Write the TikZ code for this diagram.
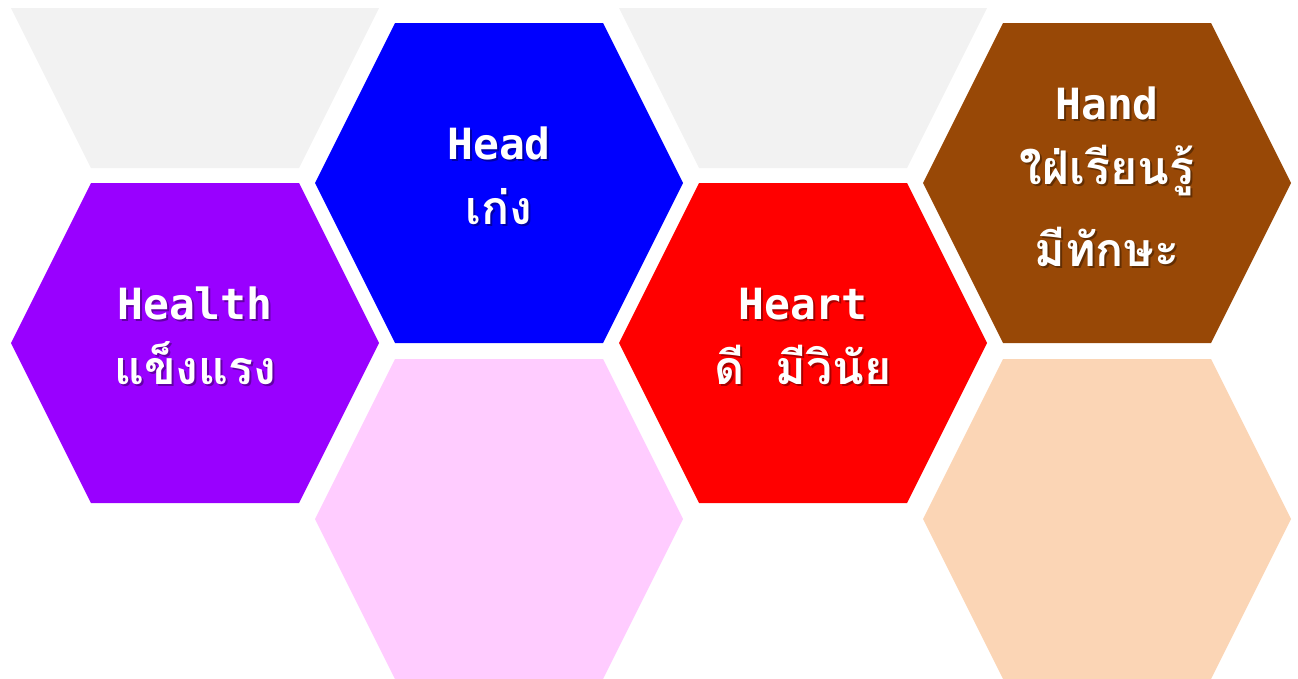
\documentclass[tikz,border=0pt]{standalone}
\usepackage{fontspec}
\newfontfamily\latinfont{DejaVu Sans Mono}
\newfontfamily\thaifont[Script=Thai,Scale=1.08]{Loma}
\usetikzlibrary{calc}
\definecolor{grisclaro}{HTML}{F2F2F2}
\definecolor{morado}{HTML}{9900FF}
\definecolor{azul}{HTML}{0000FF}
\definecolor{rosa}{HTML}{FFCCFF}
\definecolor{rojo}{HTML}{FF0000}
\definecolor{cafe}{HTML}{984806}
\definecolor{durazno}{HTML}{FBD5B5}
\tikzset{
	x=1pt, y=-1pt, % Coordenadas como en la imagen
	hexa/.pic={\fill (-184,0) -- (-104,-160) -- (104,-160) -- (184,0)
		-- (104,160) -- (-104,160) -- cycle;}, % Hexagono
	mediohexa/.pic={\fill (-184,0) -- (184,0)
		-- (104,160) -- (-104,160) -- cycle;}, % Mitad inferior
	texto/.style={text=white, align=center, inner sep=0pt,
		font=\fontsize{43}{65}\selectfont\bfseries}, % Texto blanco
	sombra/.style={texto, text=black, opacity=0.35, xshift=2pt, yshift=-2pt} % Sombra del texto
}
\newcommand{\rotulo}[3]{%
	\node[sombra] at (#1) {#3};
	\node[texto] (#2) at (#1) {#3};
}

\begin{document}
\begin{tikzpicture}
	\useasboundingbox (0,0) rectangle (1298,678);
	\clip (0,0) rectangle (1298,678);
	% centros de los hexagonos
	\coordinate (g1) at (195,8);
	\coordinate (health) at (195,343);
	\coordinate (head) at (499,183);
	\coordinate (p1) at (499,519);
	\coordinate (g2) at (803,8);
	\coordinate (heart) at (803,343);
	\coordinate (hand) at (1107,183);
	\coordinate (p2) at (1107,519);
	\pic[fill=grisclaro] at (g1) {mediohexa};
	\pic[fill=morado] at (health) {hexa};
	\pic[fill=azul] at (head) {hexa};
	\pic[fill=rosa] at (p1) {hexa};
	\pic[fill=grisclaro] at (g2) {mediohexa};
	\pic[fill=rojo] at (heart) {hexa};
	\pic[fill=cafe] at (hand) {hexa};
	\pic[fill=durazno] at (p2) {hexa};
	\rotulo{$(health)+(0,-7)$}{thealth}{\latinfont Health\\\thaifont แข็งแรง}
	\rotulo{$(head)+(0,-7)$}{thead}{\latinfont Head\\\thaifont เก่ง}
	\rotulo{$(heart)+(0,-7)$}{theart}{\latinfont Heart\\\thaifont ดี\ \ มีวินัย}
	\rotulo{$(hand)+(0,-6)$}{thand}{\latinfont Hand\\\thaifont ใฝ่เรียนรู้\\[17pt]\thaifont มีทักษะ}
\end{tikzpicture}
\end{document}
